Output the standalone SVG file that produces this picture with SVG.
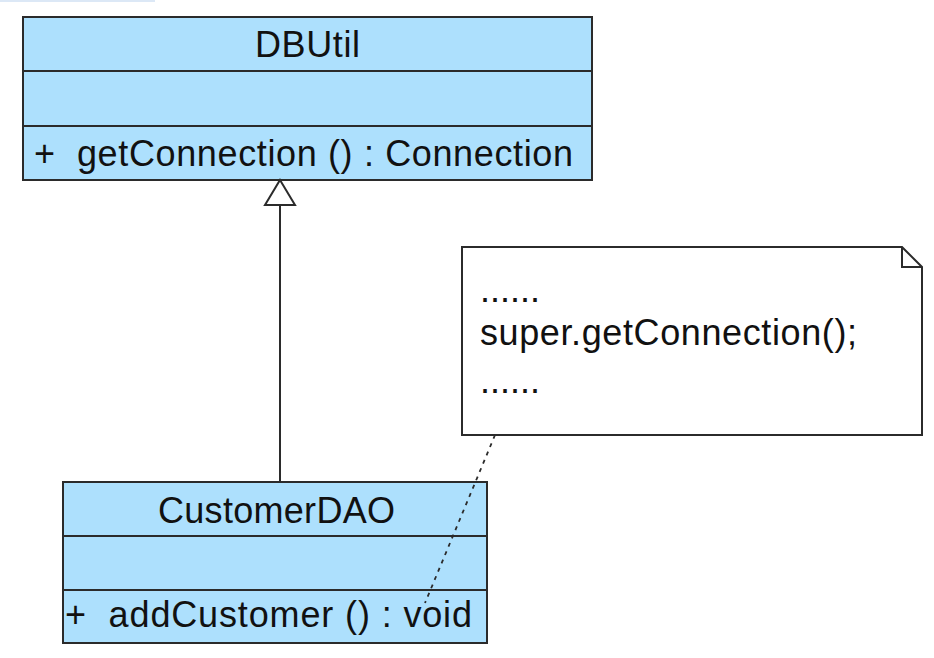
<svg xmlns="http://www.w3.org/2000/svg" width="934" height="658" viewBox="0 0 934 658">
<style>
.box{fill:#ADE0FD;stroke:#2b2b2b;stroke-width:2}
.div{stroke:#2b2b2b;stroke-width:2}
.t{font-family:"Liberation Sans",Arial,sans-serif;font-size:36px;fill:#111}
.note{fill:#fff;stroke:#2b2b2b;stroke-width:2}
</style>
<rect width="934" height="658" fill="#fff"/>
<rect x="0" y="0" width="155" height="2" fill="#dce8f6"/>
<g id="DBUtil">
<rect class="box" x="23" y="17" width="569" height="163"/>
<line class="div" x1="23" y1="71" x2="592" y2="71"/>
<line class="div" x1="23" y1="126" x2="592" y2="126"/>
<text class="t" x="255" y="57" textLength="105" lengthAdjust="spacing">DBUtil</text>
<text class="t" x="34" y="166" xml:space="preserve" textLength="539" lengthAdjust="spacing">+  getConnection () : Connection</text>
</g>
<g id="CustomerDAO">
<rect class="box" x="63" y="482" width="424" height="161"/>
<line class="div" x1="63" y1="536" x2="487" y2="536"/>
<line class="div" x1="63" y1="590" x2="487" y2="590"/>
<text class="t" x="158" y="523" textLength="237" lengthAdjust="spacing">CustomerDAO</text>
<text class="t" x="65" y="627" xml:space="preserve" textLength="407" lengthAdjust="spacing">+  addCustomer () : void</text>
</g>
<g id="Note">
<path class="note" d="M462,247 H902 L922,267 V435 H462 Z"/>
<path d="M902,247 V267 H922" fill="none" stroke="#2b2b2b" stroke-width="2"/>
<text class="t" x="480" y="302">......</text>
<text class="t" x="480" y="345" textLength="377" lengthAdjust="spacing">super.getConnection();</text>
<text class="t" x="480" y="393">......</text>
</g>
<g id="connectors">
<line x1="280" y1="205" x2="280" y2="482" stroke="#2b2b2b" stroke-width="2"/>
<polygon points="280,180 295,205 265,205" fill="#fff" stroke="#2b2b2b" stroke-width="2"/>
<line x1="495" y1="435" x2="425" y2="603" stroke="#2b2b2b" stroke-width="1.8" stroke-dasharray="4,5"/>
</g>
</svg>
